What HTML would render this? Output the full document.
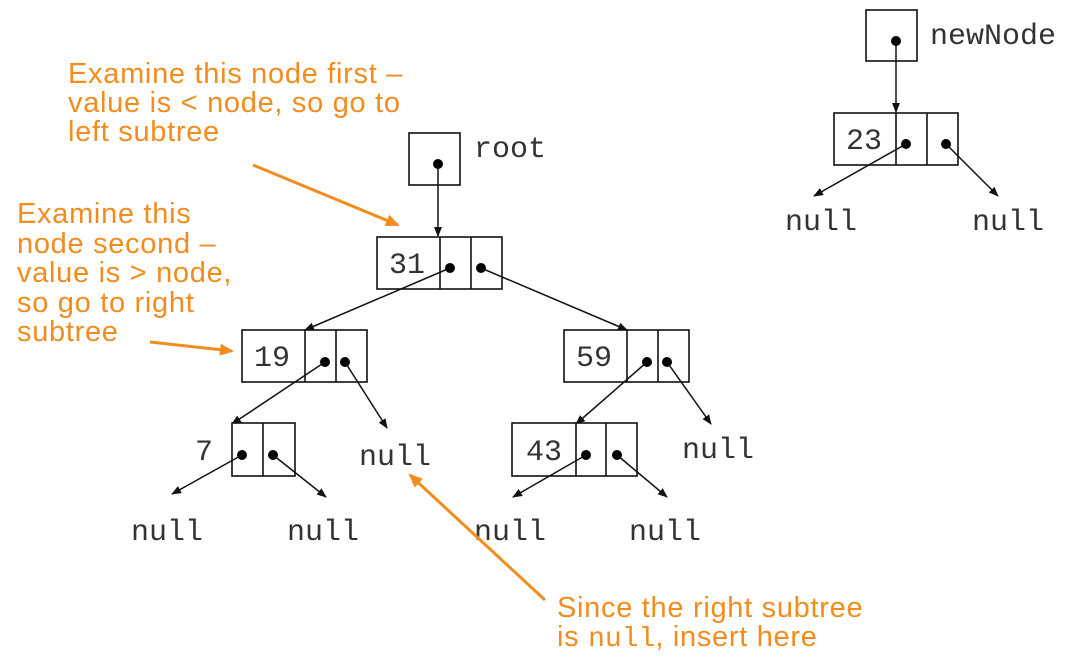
<!DOCTYPE html>
<html><head><meta charset="utf-8"><style>
html,body{margin:0;padding:0;background:#fff;}
svg{display:block;}
.m{font-family:"Liberation Mono",monospace;font-size:30px;fill:#333;}
.o{font-family:"Liberation Sans",sans-serif;font-size:29px;letter-spacing:0.7px;fill:#F28C1E;}
.b{fill:#fff;stroke:#111;stroke-width:1.6;}
.l{stroke:#111;stroke-width:1.5;marker-end:url(#ah);}
.ol{stroke:#F28C1E;stroke-width:3;marker-end:url(#oh);}
</style></head><body>
<svg width="1068" height="658" viewBox="0 0 1068 658">
<defs>
<marker id="ah" markerWidth="10" markerHeight="8" refX="9" refY="4" orient="auto" markerUnits="userSpaceOnUse"><path d="M0,0 L10,4 L0,8 z" fill="#111"/></marker>
<marker id="oh" markerWidth="14" markerHeight="12" refX="12" refY="6" orient="auto" markerUnits="userSpaceOnUse"><path d="M0,0 L14,6 L0,12 z" fill="#F28C1E"/></marker>
</defs>

<g>
<rect class="b" x="866" y="10" width="51" height="51"/><circle cx="896" cy="41" r="5"/>
<text class="m" x="930" y="44">newNode</text>
<line class="l" x1="896" y1="41" x2="896" y2="112"/>
</g>
<g>
<rect class="b" x="834" y="113" width="124" height="52"/><line stroke="#111" stroke-width="1.6" x1="896" y1="113" x2="896" y2="165"/><line stroke="#111" stroke-width="1.6" x1="927" y1="113" x2="927" y2="165"/>
<text class="m" x="846" y="149">23</text>
<circle cx="906" cy="144" r="5"/><circle cx="946" cy="144" r="5"/>
<line class="l" x1="906" y1="144" x2="814" y2="196"/><line class="l" x1="946" y1="144" x2="998" y2="196"/>
<text class="m" x="785" y="230">null</text><text class="m" x="972" y="230">null</text>
</g>

<g>
<rect class="b" x="409" y="133" width="51" height="52"/><circle cx="438" cy="164" r="5"/>
<text class="m" x="474" y="157">root</text>
<line class="l" x1="438" y1="164" x2="438" y2="236"/>
</g>
<g>
<rect class="b" x="377" y="237" width="125" height="52"/><line stroke="#111" stroke-width="1.6" x1="440" y1="237" x2="440" y2="289"/><line stroke="#111" stroke-width="1.6" x1="471" y1="237" x2="471" y2="289"/>
<text class="m" x="389" y="273">31</text>
<circle cx="450" cy="268" r="5"/><circle cx="481" cy="268" r="5"/>
<line class="l" x1="450" y1="268" x2="305" y2="330"/><line class="l" x1="481" y1="268" x2="627" y2="330"/>
</g>
<g>
<rect class="b" x="242" y="330" width="125" height="52"/><line stroke="#111" stroke-width="1.6" x1="305" y1="330" x2="305" y2="382"/><line stroke="#111" stroke-width="1.6" x1="336" y1="330" x2="336" y2="382"/>
<text class="m" x="254" y="366">19</text>
<circle cx="325" cy="362" r="5"/><circle cx="345" cy="362" r="5"/>
<line class="l" x1="325" y1="362" x2="232" y2="424"/><line class="l" x1="345" y1="362" x2="387" y2="428"/>
<text class="m" x="359" y="465">null</text>
</g>
<g>
<rect class="b" x="564" y="330" width="125" height="52"/><line stroke="#111" stroke-width="1.6" x1="627" y1="330" x2="627" y2="382"/><line stroke="#111" stroke-width="1.6" x1="658" y1="330" x2="658" y2="382"/>
<text class="m" x="576" y="366">59</text>
<circle cx="647" cy="362" r="5"/><circle cx="667" cy="362" r="5"/>
<line class="l" x1="647" y1="362" x2="576" y2="424"/><line class="l" x1="667" y1="362" x2="711" y2="424"/>
<text class="m" x="682" y="458">null</text>
</g>
<g>
<rect class="b" x="232" y="423" width="63" height="53"/><line stroke="#111" stroke-width="1.6" x1="263" y1="423" x2="263" y2="476"/>
<text class="m" x="195" y="460">7</text>
<circle cx="242" cy="455" r="5"/><circle cx="273" cy="455" r="5"/>
<line class="l" x1="242" y1="455" x2="172" y2="494"/><line class="l" x1="273" y1="455" x2="326" y2="497"/>
<text class="m" x="131" y="540">null</text><text class="m" x="287" y="540">null</text>
</g>
<g>
<rect class="b" x="512" y="423" width="125" height="53"/><line stroke="#111" stroke-width="1.6" x1="576" y1="423" x2="576" y2="476"/><line stroke="#111" stroke-width="1.6" x1="606" y1="423" x2="606" y2="476"/>
<text class="m" x="526" y="460">43</text>
<circle cx="586" cy="455" r="5"/><circle cx="617" cy="455" r="5"/>
<line class="l" x1="586" y1="455" x2="513" y2="497"/><line class="l" x1="617" y1="455" x2="667" y2="497"/>
<text class="m" x="474" y="540">null</text><text class="m" x="629" y="540">null</text>
</g>

<g>
<text class="o" x="68" y="83">Examine this node first –</text>
<text class="o" x="68" y="112">value is &lt; node, so go to</text>
<text class="o" x="68" y="141">left subtree</text>
<line class="ol" x1="253" y1="165" x2="398" y2="225"/>
</g>
<g>
<text class="o" x="17" y="223">Examine this</text>
<text class="o" x="17" y="253">node second –</text>
<text class="o" x="17" y="282">value is &gt; node,</text>
<text class="o" x="17" y="312">so go to right</text>
<text class="o" x="17" y="341">subtree</text>
<line class="ol" x1="150" y1="342" x2="232" y2="351"/>
</g>
<g>
<text class="o" x="557" y="617">Since the right subtree</text>
<text class="o" x="557" y="646">is <tspan style="font-family:'Liberation Mono',monospace;font-size:28px;letter-spacing:0">null</tspan>, insert here</text>
<line class="ol" x1="545" y1="600" x2="410" y2="475"/>
</g>
</svg>
</body></html>
